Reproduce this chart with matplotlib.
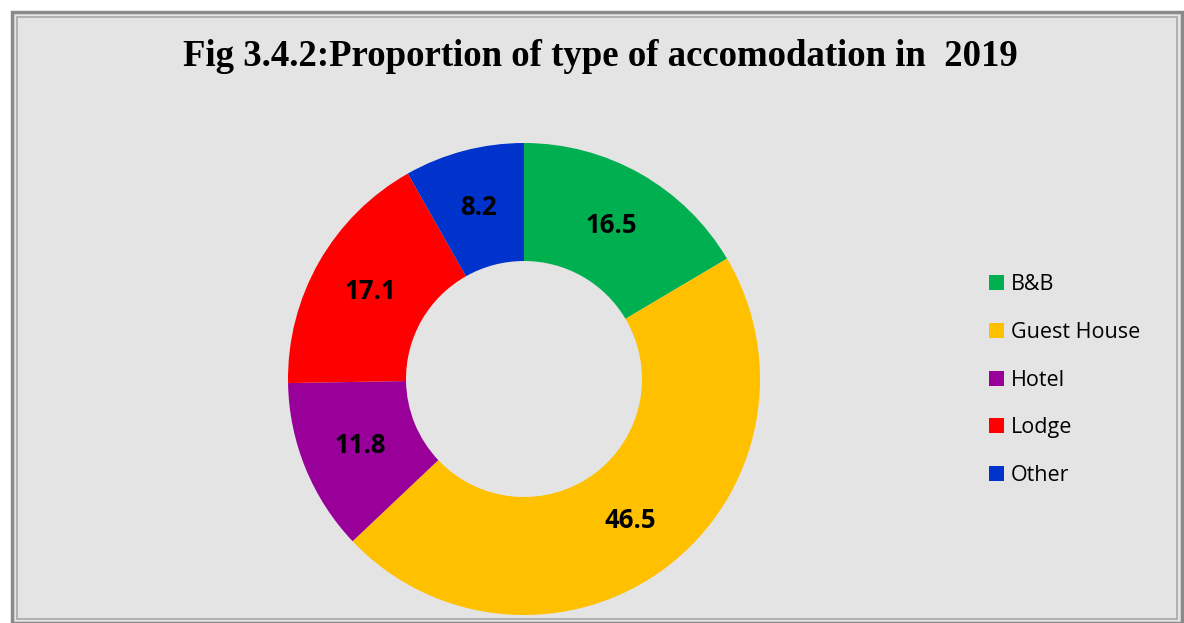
import numpy as np
import matplotlib.pyplot as plt
from matplotlib.patches import Rectangle, Patch

# data
labels = ['B&B', 'Guest House', 'Hotel', 'Lodge', 'Other']
values = [16.5, 46.5, 11.8, 17.1, 8.2]
colors = ['#00b050', '#ffc000', '#990099', '#ff0000', '#0033cc']

W, H = 1184, 623
fig = plt.figure(figsize=(W / 100, H / 100), dpi=100)
fig.patch.set_facecolor('white')

# chart frame with grey fill
fig.patches.append(Rectangle((12 / W, 0), (W - 14) / W, (H - 12) / H, transform=fig.transFigure,
                             facecolor='#e4e4e4', edgecolor='#8a8a8a', linewidth=2.5, zorder=-2))
fig.patches.append(Rectangle((17 / W, 4 / H), (W - 24) / W, (H - 21) / H, transform=fig.transFigure,
                             facecolor='none', edgecolor='#a8a8a8', linewidth=1.2, zorder=-1))

# donut
cx, cy, r = 524, 623 - 379, 236
ax = fig.add_axes([(cx - r) / W, (cy - r) / H, 2 * r / W, 2 * r / H])
ax.set_facecolor('none')
wedges, texts = ax.pie(values, colors=colors, startangle=90, counterclock=False,
                       radius=1, wedgeprops=dict(width=0.5, edgecolor='none'))
for w, v in zip(wedges, values):
    ang = np.deg2rad((w.theta1 + w.theta2) / 2)
    ax.text(0.75 * np.cos(ang), 0.75 * np.sin(ang), f'{v}', ha='center', va='center',
            fontsize=18.5, fontweight='bold', family='Open Sans', color='black')
ax.set_xlim(-1, 1)
ax.set_ylim(-1, 1)
ax.set_aspect('equal')
ax.axis('off')

# title
fig.text(600 / W, 1 - 57 / H, 'Fig 3.4.2:Proportion of type of accomodation in  2019',
         ha='center', va='center', fontsize=26.5, fontweight='bold', family='Liberation Serif')

# legend
handles = [Patch(facecolor=c, edgecolor='none') for c in colors]
fig.legend(handles, labels, loc='upper left', bbox_to_anchor=(970 / W, 1 - 255 / H),
           frameon=False, prop={'family': 'Open Sans', 'size': 15.5},
           handlelength=0.7, handleheight=0.7, handletextpad=0.3, labelspacing=1.24)

fig.savefig('out.png', dpi=100)
